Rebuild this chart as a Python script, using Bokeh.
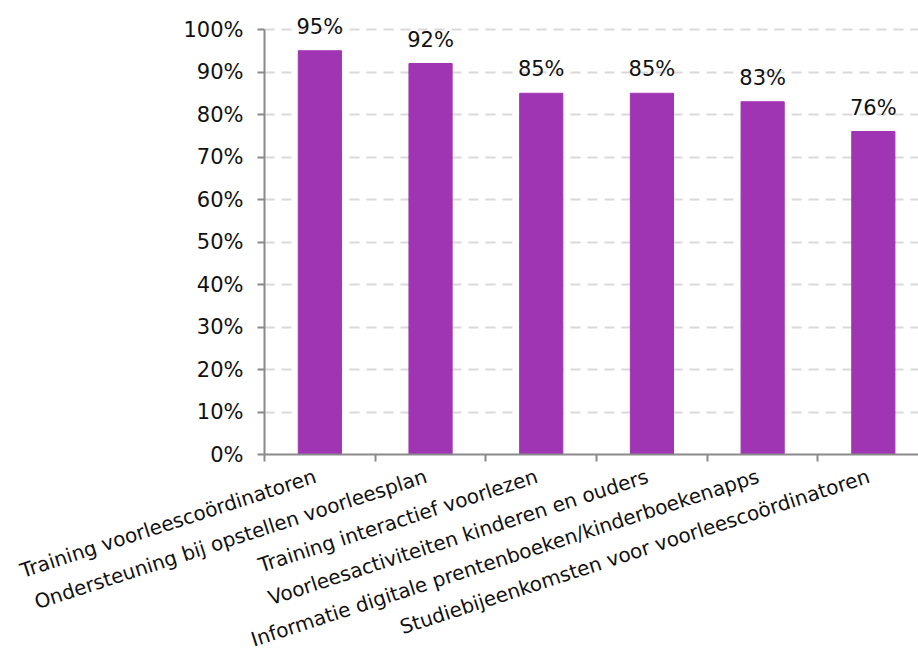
import numpy as np
from bokeh.plotting import figure
from bokeh.models import ColumnDataSource, Range1d, FixedTicker, LabelSet, NumeralTickFormatter
from bokeh.core.properties import value
from bokeh.embed import file_html
from bokeh.resources import INLINE

categories = [
    "Training voorleescoördinatoren",
    "Ondersteuning bij opstellen voorleesplan",
    "Training interactief voorlezen",
    "Voorleesactiviteiten kinderen en ouders",
    "Informatie digitale prentenboeken/kinderboekenapps",
    "Studiebijeenkomsten voor voorleescoördinatoren",
]
values = [0.95, 0.92, 0.85, 0.85, 0.83, 0.76]
value_labels = ["95%", "92%", "85%", "85%", "83%", "76%"]
y_ticks = [0.0, 0.1, 0.2, 0.3, 0.4, 0.5, 0.6, 0.7, 0.8, 0.9, 1.0]

FONT = "DejaVu Sans"
BAR = "#A035B4"
AXIS = "#8a8a8a"
TXT = "#111111"

xs = np.arange(len(categories)) + 0.5
src = ColumnDataSource(dict(x=xs, top=values, label=value_labels))

p = figure(width=918, height=666, output_backend="svg", toolbar_location=None,
           x_range=Range1d(0, 5.908), y_range=Range1d(0, 1.04),
           min_border_left=264, min_border_right=0, min_border_top=12, min_border_bottom=212)
p.outline_line_color = None
p.background_fill_color = "white"
p.border_fill_color = "white"

p.vbar(x="x", top="top", width=0.39, bottom=0, source=src, fill_color=BAR, line_color=BAR)

labels = LabelSet(x="x", y="top", text="label", source=src, text_align="center",
                  text_baseline="alphabetic", y_offset=17, text_font=value(FONT),
                  text_font_size="21px", text_color=TXT)
p.add_layout(labels)

# y axis
p.yaxis.ticker = FixedTicker(ticks=y_ticks)
p.yaxis.bounds = (0, 1)
p.yaxis.formatter = NumeralTickFormatter(format="0%")
p.yaxis.major_label_text_font = FONT
p.yaxis.major_label_text_font_size = "21px"
p.yaxis.major_label_text_color = TXT
p.yaxis.axis_line_color = AXIS
p.yaxis.axis_line_width = 2
p.yaxis.major_tick_line_color = AXIS
p.yaxis.major_tick_line_width = 2
p.yaxis.major_tick_in = 0
p.yaxis.major_tick_out = 7
p.yaxis.minor_tick_line_color = None
p.yaxis.major_label_standoff = 14

# x axis: labels near centers (slightly left, as in the original), ticks at boundaries
label_pos = [float(x) - 0.04 for x in xs]
p.xaxis.ticker = FixedTicker(ticks=label_pos, minor_ticks=list(range(len(categories) + 1)))
p.xaxis.major_label_overrides = {x: c for x, c in zip(label_pos, categories)}
p.xaxis.major_label_orientation = np.deg2rad(18)
p.xaxis.major_label_text_font = FONT
p.xaxis.major_label_text_font_size = "20px"
p.xaxis.major_label_text_color = TXT
p.xaxis.axis_line_color = AXIS
p.xaxis.axis_line_width = 2
p.xaxis.major_tick_line_color = None
p.xaxis.minor_tick_line_color = AXIS
p.xaxis.minor_tick_line_width = 2
p.xaxis.minor_tick_in = 0
p.xaxis.minor_tick_out = 7
p.xaxis.major_label_standoff = 14

p.xgrid.grid_line_color = None
p.ygrid.grid_line_color = "#d9d9d9"
p.ygrid.grid_line_width = 2
p.ygrid.grid_line_dash = "10 7"

open("out.html", "w").write(file_html(p, INLINE))
